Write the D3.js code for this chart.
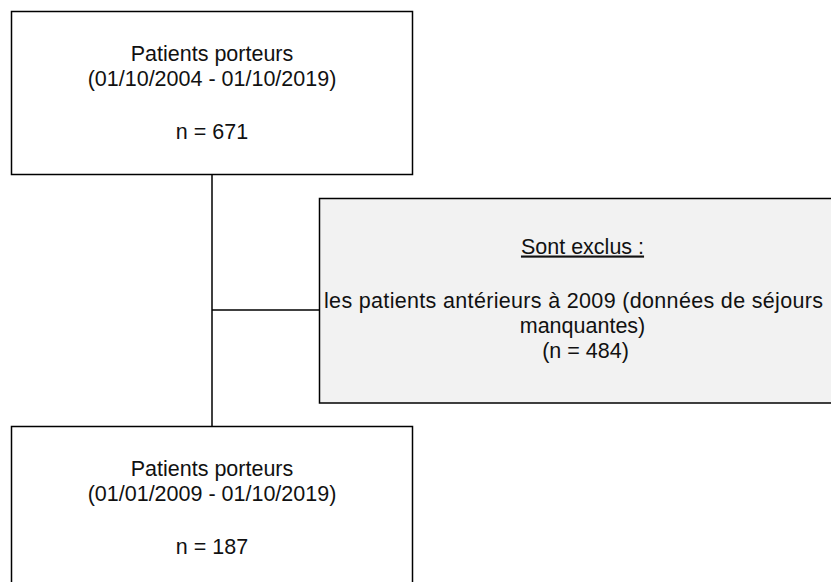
<!DOCTYPE html>
<html>
<head>
<meta charset="utf-8">
<script src="https://cdn.jsdelivr.net/npm/d3@7"></script>
<style>
  html, body { margin: 0; padding: 0; background: #fff; }
  svg text { font-family: "Liberation Sans", Arial, sans-serif; font-size: 21.5px; fill: #111; }
</style>
</head>
<body>
<div id="chartContainer"></div>
<script>
var width = 831;
var height = 582;

// flow data
var stepTitles = ['Patients porteurs', 'Patients porteurs'];
var stepPeriods = ['(01/10/2004 - 01/10/2019)', '(01/01/2009 - 01/10/2019)'];
var stepCounts = [671, 187];
var exclusionTitle = 'Sont exclus :';
var exclusionLines = ['les patients antérieurs à 2009 (données de séjours', 'manquantes)'];
var exclusionCount = 484;

var svg = d3.select('#chartContainer').
append('svg').
attr('width', width).
attr('height', height);

// main boxes
var boxX = 11.5, boxW = 401, boxH = 163;
var boxY = [11.5, 426.5];
var midX = boxX + boxW / 2;

// connectors drawn first so boxes sit on top
svg.append('line').
attr('x1', midX).attr('x2', midX).
attr('y1', boxY[0] + boxH - 0.5).attr('y2', boxY[1]).
attr('stroke', '#000').attr('stroke-width', 1.5);

var exX = 319.5, exY = 198.5, exW = 526, exH = 204.5;
svg.append('line').
attr('x1', midX).attr('x2', exX).
attr('y1', 310).attr('y2', 310).
attr('stroke', '#000').attr('stroke-width', 1.5);

var steps = svg.selectAll('g.step').
data(stepTitles).
enter().
append('g').
attr('class', 'step').
attr('transform', function (d, i) {return 'translate(' + boxX + ',' + boxY[i] + ')';});

steps.append('rect').
attr('width', boxW).
attr('height', boxH).
attr('fill', '#fff').
attr('stroke', '#000').
attr('stroke-width', 1.5);

steps.append('text').
attr('x', boxW / 2).
attr('y', 49).
attr('text-anchor', 'middle').
text(function (d) {return d;});

steps.append('text').
attr('x', boxW / 2).
attr('y', 74).
attr('text-anchor', 'middle').
text(function (d, i) {return stepPeriods[i];});

steps.append('text').
attr('x', boxW / 2).
attr('y', 127).
attr('text-anchor', 'middle').
text(function (d, i) {return 'n = ' + stepCounts[i];});

// exclusion box
var ex = svg.append('g').
attr('transform', 'translate(' + exX + ',' + exY + ')');

ex.append('rect').
attr('width', exW).
attr('height', exH).
attr('fill', '#f2f2f2').
attr('stroke', '#000').
attr('stroke-width', 1.5);

var cx = 582.5 - exX;

ex.append('text').
attr('x', cx).
attr('y', 55).
attr('text-anchor', 'middle').
attr('text-decoration', 'underline').
text(exclusionTitle);

ex.selectAll('text.reason').
data(exclusionLines).
enter().
append('text').
attr('class', 'reason').
attr('x', function (d, i) {return i === 0 ? 573.5 - exX : cx;}).
attr('y', function (d, i) {return 109 + i * 25;}).
attr('text-anchor', 'middle').
attr('textLength', function (d, i) {return i === 0 ? 499 : null;}).
attr('lengthAdjust', 'spacing').
text(function (d) {return d;});

ex.append('text').
attr('x', cx + 3).
attr('y', 159).
attr('text-anchor', 'middle').
text('(n = ' + exclusionCount + ')');
</script>
</body>
</html>
